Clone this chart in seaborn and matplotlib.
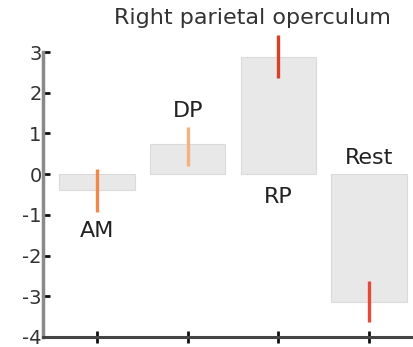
import matplotlib
matplotlib.use("Agg")
import matplotlib.pyplot as plt
import seaborn as sns
import pandas as pd

categories = ["AM", "DP", "RP", "Rest"]
bar_values = [-0.4, 0.75, 2.88, -3.15]
err_low = [-0.93, 0.2, 2.37, -3.63]
err_high = [0.12, 1.17, 3.41, -2.63]
err_colors = ["#f0884a", "#f5b27c", "#d9402c", "#e44a3a"]
label_y = [-1.4, 1.55, -0.57, 0.4]
yticks = [-4, -3, -2, -1, 0, 1, 2, 3]
title = "Right parietal operculum"

sns.set_style("white")
plt.rcParams["font.family"] = ["DejaVu Sans"]

fig = plt.figure(figsize=(4.14, 3.47), dpi=100)
ax = fig.add_axes([0.104, 0.029, 0.896, 0.821])

df = pd.DataFrame({"cat": categories, "val": bar_values})
sns.barplot(data=df, x="cat", y="val", order=categories, color="#e8e8e8",
            width=0.83, edgecolor="#dadada", linewidth=0.8, saturation=1, ax=ax)

for i, c in enumerate(categories):
    ax.vlines(i, err_low[i], err_high[i], color=err_colors[i], linewidth=2.4,
              clip_on=False, zorder=5)
    ax.text(i, label_y[i], c, ha="center", va="center", fontsize=16, color="#222222")

ax.set_xlim(-0.595, 3.495)
ax.set_ylim(-4, 3)
ax.set_yticks(yticks)
ax.set_yticklabels([str(t) for t in yticks])
ax.set_xticks(range(len(categories)))
ax.set_xticklabels([""] * len(categories))
ax.set_xlabel("")
ax.set_ylabel("")
ax.yaxis.set_tick_params(which="major", direction="in", length=5, width=2,
                         color="#111111", labelsize=14, labelcolor="#333333",
                         pad=1, left=True)
ax.xaxis.set_tick_params(which="major", direction="inout", length=9, width=2,
                         color="#111111", bottom=True)
for s in ["top", "right"]:
    ax.spines[s].set_visible(False)
ax.spines["left"].set_color("#8a8a8a")
ax.spines["left"].set_linewidth(2.5)
ax.spines["bottom"].set_color("#444444")
ax.spines["bottom"].set_linewidth(2.2)

ax.text(1.71, 3.83, title, ha="center", va="center", fontsize=16, color="#333333",
        clip_on=False)

fig.savefig("out.png", dpi=100)
